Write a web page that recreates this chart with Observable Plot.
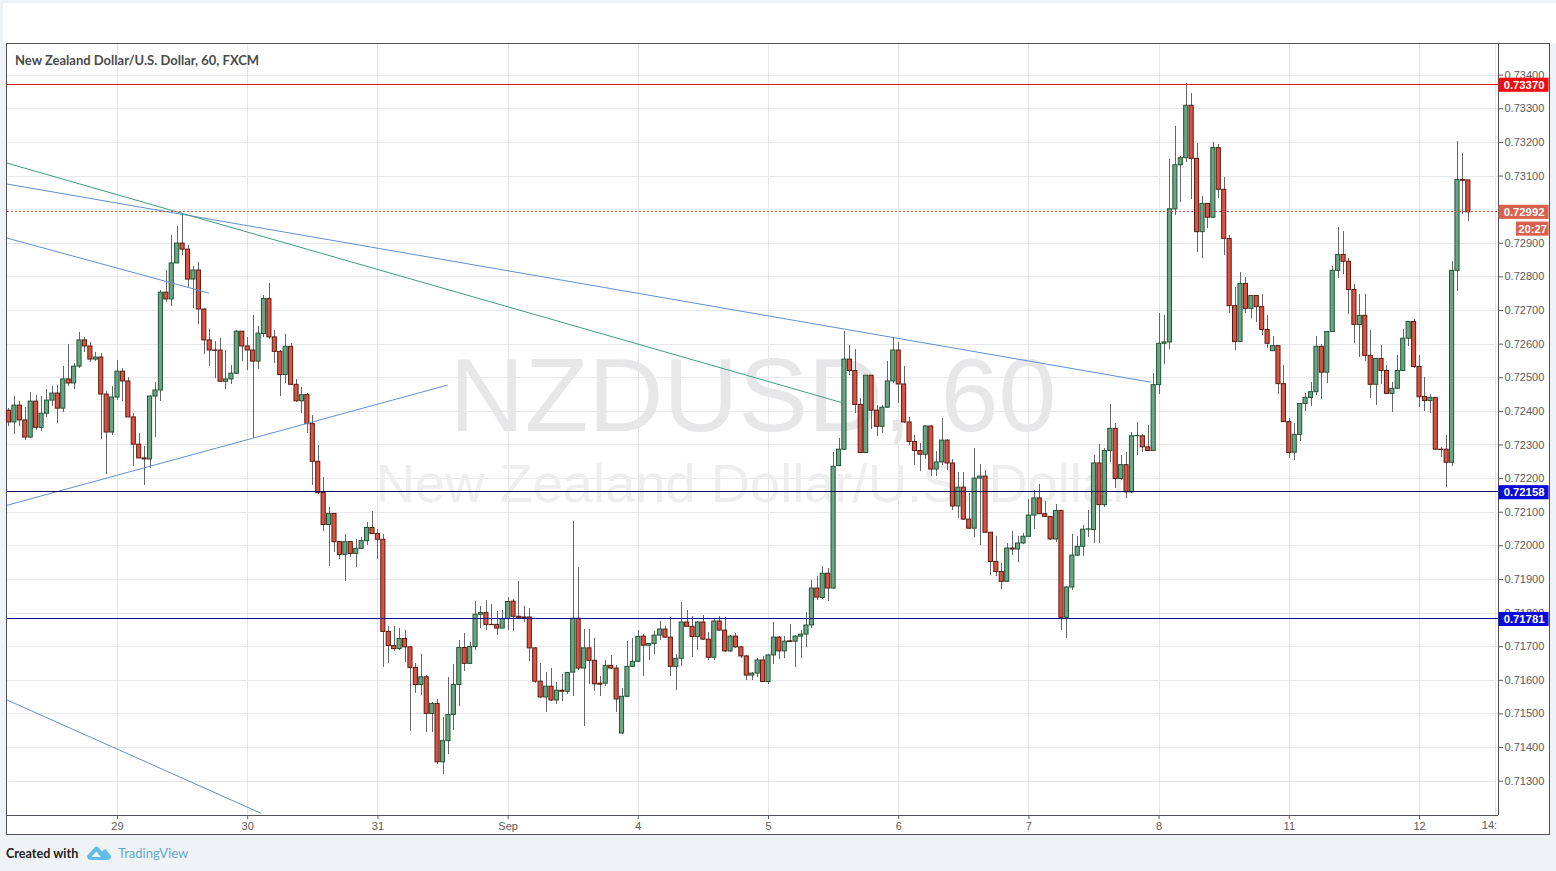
<!DOCTYPE html>
<html><head><meta charset="utf-8">
<script src="https://cdn.jsdelivr.net/npm/d3@7"></script>
<script src="https://cdn.jsdelivr.net/npm/@observablehq/plot@0.6"></script>
<style>
html,body{margin:0;padding:0;width:1556px;height:871px;overflow:hidden;background:#f0f3f6;font-family:"Liberation Sans",sans-serif}
#top{position:absolute;left:3px;top:3px;width:1553px;height:40px;background:#fff}
#box{position:absolute;left:6px;top:43px;width:1542px;height:790px;background:#fff;border:1px solid #50535e}
#chart{position:absolute;left:0;top:0}
#title{position:absolute;left:15px;top:52px;font:700 13px/16px "Lato",sans-serif;color:#4a4a4a;white-space:nowrap}
#foot{position:absolute;left:6px;top:845px;font:700 12.6px/17px "Lato",sans-serif;color:#222;white-space:nowrap}
#brand{position:absolute;left:118px;top:845px;font:400 13px/17px "Lato",sans-serif;color:#62a9cc;white-space:nowrap}
#logo{position:absolute;left:87px;top:845px}
</style></head><body>
<div id="top"></div><div id="box"></div>
<div id="chart"></div>
<div id="title">New Zealand Dollar/U.S. Dollar, 60, FXCM</div>
<div id="foot">Created with</div>
<svg id="logo" width="24" height="16" viewBox="0 0 24 16"><path d="M0 11 L8 2 Q9.5 .8 11 2 L15 6.5 L17 4.5 Q18 3.8 19 4.5 L24 11 Q24 15 20 15 L4 15 Q0 15 0 11Z M5 11 L9.5 6.5 L12 10 L14 12 L5 12Z" fill="#5fbde6" fill-rule="evenodd"/></svg>
<div id="brand">TradingView</div>
<script>
const opens=[72402,72367,72417,72373,72322,72429,72351,72393,72432,72453,
72408,72495,72483,72533,72611,72593,72554,72560,72450,72337,
72441,72518,72489,72382,72301,72260,72257,72444,72462,72753,
72733,72840,72899,72881,72792,72819,72703,72611,72581,72581,
72488,72495,72512,72637,72593,72581,72548,72630,72734,72620,
72577,72508,72592,72479,72430,72449,72362,72250,72157,72062,
72095,72011,71973,72011,71976,71991,72014,72053,72035,72018,
71744,71702,71693,71723,71698,71637,71586,71609,71500,71530,
71356,71419,71497,71586,71696,71649,71699,71795,71800,71765,
71765,71754,71782,71834,71789,71787,71787,71695,71596,71549,
71581,71540,71569,71566,71623,71783,71635,71695,71658,71590,
71590,71643,71635,71442,71551,71640,71655,71730,71703,71708,
71733,71751,71727,71640,71664,71772,71759,71729,71772,71721,
71667,71775,71748,71686,71730,71698,71671,71614,71620,71659,
71595,71674,71727,71686,71716,71715,71730,71736,71763,71873,
71845,71917,71873,72237,72286,72554,72520,72419,72276,72506,
72402,72354,72411,72489,72581,72480,72367,72309,72282,72271,
72355,72227,72248,72313,72245,72117,72173,72078,72051,72200,
72206,72039,71952,71922,71893,71992,71989,72007,72027,72090,
72141,72094,72086,72019,72104,71786,71876,71971,71997,72048,
72047,72245,72121,72282,72348,72199,72240,72159,72326,72326,
72293,72282,72478,72601,72605,73001,73132,73153,73309,73151,
72933,73017,72976,73183,73059,72913,72713,72606,72779,72705,
72743,72710,72642,72579,72594,72481,72368,72277,72330,72422,
72440,72457,72592,72515,72636,72818,72865,72845,72761,72657,
72684,72565,72479,72556,72520,72452,72467,72520,72616,72666,
72532,72443,72431,72440,72286,72286,72247,72818,73088,73087];
const highs=[72408,72445,72430,72411,72457,72448,72445,72466,72475,72477,
72532,72600,72542,72635,72621,72604,72575,72572,72458,72475,
72552,72527,72500,72393,72334,72296,72448,72487,72760,72820,
72924,72951,72990,72894,72832,72844,72705,72643,72607,72616,
72582,72537,72641,72639,72620,72686,72653,72744,72781,72640,
72580,72630,72603,72494,72472,72452,72387,72298,72202,72113,
72097,72013,72035,72013,72018,72026,72068,72102,72048,72033,
71760,71761,71753,71748,71700,71649,71677,71614,71535,71542,
71490,71609,71647,71718,71738,71713,71833,71819,71837,71825,
71804,71809,71846,71840,71895,71820,71813,71697,71650,71623,
71635,71593,71618,71624,72073,71937,71752,71752,71724,71610,
71660,71675,71645,71576,71714,71724,71747,71736,71710,71744,
71776,71759,71787,71678,71830,71807,71789,71774,71794,71742,
71784,71791,71786,71732,71739,71700,71673,71622,71665,71670,
71678,71773,71731,71729,71767,71734,71749,71801,71898,71910,
71939,71932,72277,72318,72638,72597,72585,72438,72508,72508,
72418,72418,72547,72619,72604,72532,72381,72329,72304,72359,
72357,72281,72378,72315,72257,72218,72218,72155,72289,72242,
72225,72041,72028,71947,72007,72043,72027,72037,72138,72165,
72183,72131,72088,72124,72106,71878,72034,72028,72061,72106,
72270,72300,72289,72419,72363,72268,72278,72337,72366,72332,
72358,72512,72691,72685,73150,73246,73159,73376,73344,73198,
73039,73019,73201,73193,73097,72922,72767,72812,72797,72746,
72746,72748,72685,72624,72596,72537,72379,72365,72424,72452,
72487,72623,72599,72638,72831,72946,72935,72856,72777,72749,
72749,72640,72558,72596,72536,72487,72566,72642,72668,72674,
72566,72500,72450,72442,72292,72328,72846,73202,73166,73087];
const lows=[72356,72332,72356,72312,72320,72344,72339,72382,72415,72363,
72398,72473,72465,72527,72576,72544,72548,72316,72211,72328,
72433,72430,72382,72235,72260,72180,72229,72322,72430,72723,
72711,72840,72864,72768,72705,72659,72570,72534,72498,72485,
72465,72481,72510,72548,72522,72319,72524,72620,72615,72541,
72445,72482,72476,72427,72394,72333,72179,72154,72043,71939,
71981,71960,71895,71964,71936,71991,72001,72035,71958,71639,
71649,71686,71690,71654,71448,71560,71554,71446,71446,71351,
71319,71379,71450,71522,71627,71649,71688,71755,71748,71763,
71734,71754,71749,71744,71784,71771,71655,71590,71547,71503,
71536,71529,71536,71559,71551,71630,71462,71588,71566,71551,
71581,71633,71504,71440,71549,71638,71653,71610,71660,71678,
71719,71725,71610,71569,71640,71757,71668,71690,71719,71660,
71658,71746,71684,71684,71696,71665,71598,71600,71607,71593,
71587,71648,71663,71664,71714,71637,71665,71697,71753,71838,
71840,71835,71871,72235,72284,72507,72393,72274,72274,72346,
72326,72334,72408,72483,72423,72365,72299,72240,72220,72257,
72205,72205,72240,72223,72104,72081,72076,72049,72026,72002,
72037,71912,71908,71870,71891,71972,71950,72005,72025,72049,
72092,72084,72017,72009,71749,71724,71866,71969,71967,72025,
72007,72007,72114,72249,72172,72193,72142,72157,72268,72278,
72280,72280,72449,72539,72585,72982,73020,73140,73031,72872,
72855,72943,72974,73033,72865,72691,72580,72604,72691,72677,
72663,72627,72587,72577,72451,72366,72260,72254,72311,72401,
72414,72447,72436,72484,72634,72796,72807,72688,72601,72561,
72549,72437,72417,72479,72450,72398,72464,72518,72593,72526,
72411,72401,72395,72284,72264,72173,72236,72757,72987,72965];
const closes=[72367,72417,72373,72322,72429,72351,72393,72432,72453,72408,
72495,72483,72533,72611,72593,72554,72560,72450,72337,72441,
72518,72489,72382,72301,72260,72257,72444,72462,72753,72733,
72840,72899,72881,72792,72819,72703,72611,72581,72580,72488,
72495,72512,72637,72593,72581,72548,72631,72734,72620,72577,
72508,72592,72479,72430,72448,72362,72250,72157,72062,72095,
72011,71973,72011,71976,71991,72014,72053,72035,72018,71744,
71702,71693,71723,71698,71637,71586,71609,71500,71530,71356,
71419,71497,71586,71696,71649,71699,71795,71800,71765,71764,
71754,71782,71833,71789,71785,71784,71695,71596,71549,71581,
71540,71569,71566,71622,71783,71635,71695,71658,71588,71587,
71643,71635,71543,71551,71640,71655,71729,71703,71708,71733,
71751,71727,71640,71664,71772,71759,71729,71772,71721,71667,
71775,71748,71686,71730,71698,71671,71614,71620,71659,71595,
71674,71727,71686,71715,71714,71730,71736,71763,71873,71846,
71917,71873,72235,72286,72554,72520,72419,72276,72506,72402,
72354,72411,72489,72581,72480,72367,72309,72282,72271,72355,
72227,72248,72313,72245,72117,72173,72078,72051,72200,72206,
72039,71952,71922,71893,71992,71989,72007,72027,72090,72141,
72094,72086,72019,72104,71786,71876,71971,71997,72048,72049,
72245,72121,72282,72348,72199,72240,72159,72326,72327,72293,
72282,72478,72601,72605,73001,73132,73153,73309,73151,72933,
73017,72976,73183,73059,72913,72713,72606,72779,72705,72743,
72710,72642,72601,72594,72481,72368,72276,72330,72422,72440,
72457,72592,72515,72636,72818,72865,72845,72761,72657,72684,
72565,72479,72556,72520,72452,72467,72520,72616,72666,72532,
72442,72431,72440,72286,72285,72247,72818,73088,73086,72992];

const tickBars=[20,44,68,92,116,140,164,188,212,236,260];
const tickLabels=["29","30","31","Sep","4","5","6","7","8","11","12"];
const partialBar=[274], partialLabel="14:";
const priceTicks=d3.range(713,735).map(v=>v/1000);

const levels=[
 {price:.7337,line:"#e02020",tag:"#f00d0d",label:"0.73370"},
 {price:.72158,line:"#0f0f57",tag:"#0a0ad8",label:"0.72158"},
 {price:.71781,line:"#0b0b9a",tag:"#0a0ad8",label:"0.71781"}
];
const lastPrice=.72992, lastTag="#d8604c", countdown="20:27";
const trendA=[{i:-.28,p:.73076},{i:210.4,p:.72487}];
const trendB=[{i:-.28,p:.73138},{i:153.3,p:.72427}];
const trendC=[{i:-.28,p:.72915},{i:36.8,p:.72752}];
const trendD=[{i:-.28,p:.72121},{i:80.8,p:.72478}];
const trendE=[{i:-.28,p:.71541},{i:46.4,p:.71205}];

const bars=opens.map((o,i)=>({i,o:o/1e5,h:highs[i]/1e5,l:lows[i]/1e5,c:closes[i]/1e5,up:closes[i]>=o}));
const tagL=274.66,tagR=283.88,tagMid=279.27,tagH=.00021,cdL=277.87,cdMid=280.85,cdP=lastPrice-.0005;
const blue="#5f8fcf",green="#3f9a80";
const trend=(d,s)=>Plot.line(d,{x:"i",y:"p",stroke:s,strokeWidth:1,clip:true});
const yLow=.711979,yHigh=.734912,xHigh=274.56;

const plot=Plot.plot({
 width:1556,height:835,
 marginLeft:7,marginRight:58,marginTop:44,marginBottom:20,
 x:{domain:[-.276,xHigh],axis:null},
 y:{domain:[yLow,yHigh],axis:null},
 style:{background:"transparent",fontFamily:'"Liberation Sans",sans-serif',fontSize:"11px",overflow:"visible"},
 marks:[
  Plot.gridX([...tickBars,...partialBar],{stroke:"#e4e6ea",strokeOpacity:1,shapeRendering:"crispEdges"}),
  Plot.gridY(priceTicks,{stroke:"#e6e8ec",strokeOpacity:1,shapeRendering:"crispEdges"}),
  Plot.text(["NZDUSD, 60"],{frameAnchor:"middle",dy:-32,fontSize:104,fill:"#e7e7e9"}),
  Plot.text(["New Zealand Dollar/U.S. Dollar"],{frameAnchor:"middle",dy:55,fontSize:54.3,fill:"#eeeef0"}),
  Plot.ruleX(bars,{x:"i",y1:"l",y2:"h",stroke:"#666",strokeWidth:1,shapeRendering:"crispEdges"}),
  Plot.rect(bars,{x1:d=>d.i-.38,x2:d=>d.i+.38,y1:"o",y2:"c",fill:d=>d.up?"#6ba583":"#d75442",stroke:d=>d.up?"#225437":"#5b1a13",strokeWidth:1}),
  trend(trendA,blue),trend(trendB,green),trend(trendC,blue),trend(trendD,blue),trend(trendE,blue),
  Plot.ruleY([lastPrice],{stroke:"#c0563c",strokeWidth:1,strokeDasharray:"2 2",shapeRendering:"crispEdges",dy:-1}),
  Plot.ruleY(levels,{y:"price",stroke:"line",strokeWidth:1,shapeRendering:"crispEdges",dy:-1}),
  Plot.ruleX([xHigh],{stroke:"#50535e",shapeRendering:"crispEdges"}),
  Plot.ruleY([yLow],{stroke:"#50535e",shapeRendering:"crispEdges"}),
  Plot.axisY(priceTicks,{anchor:"right",tickSize:4,tickPadding:2,tickFormat:d3.format(".5f"),color:"#5a5a5a",fontSize:11,label:null}),
  Plot.axisX(tickBars,{anchor:"bottom",tickSize:4,tickPadding:3,tickFormat:(d,i)=>tickLabels[i],color:"#5a5a5a",fontSize:11,label:null}),
  Plot.text(partialBar,{x:d=>d,text:()=>partialLabel,frameAnchor:"bottom",dy:13,dx:-6,fill:"#5a5a5a",fontSize:11}),
  Plot.rect(levels,{x1:tagL,x2:tagR,y1:d=>d.price-tagH,y2:d=>d.price+tagH,fill:"tag"}),
  Plot.text(levels,{x:tagMid,y:"price",text:"label",fill:"#fff",fontWeight:"bold",fontSize:11.3}),
  Plot.rect([lastPrice],{x1:tagL,x2:tagR,y1:d=>d-tagH,y2:d=>d+tagH,fill:lastTag}),
  Plot.text([lastPrice],{x:tagMid,y:d=>d,text:d=>d.toFixed(5),fill:"#fff",fontWeight:"bold",fontSize:11.3}),
  Plot.rect([cdP],{x1:cdL,x2:tagR,y1:d=>d-tagH,y2:d=>d+tagH,fill:lastTag}),
  Plot.text([cdP],{x:cdMid,y:d=>d,text:()=>countdown,fill:"#fff",fontWeight:"bold",fontSize:11.3})
 ]
});
document.getElementById("chart").append(plot);
</script>
</body></html>
